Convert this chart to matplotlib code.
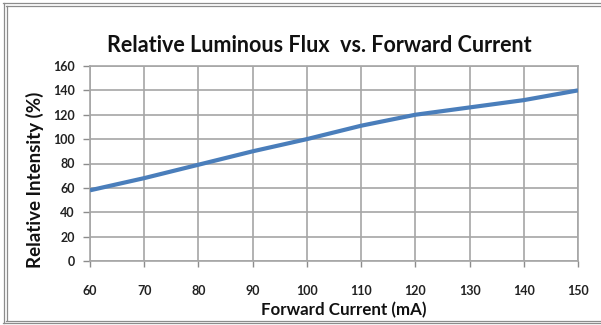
import matplotlib
matplotlib.use("Agg")
import matplotlib.pyplot as plt
from matplotlib.lines import Line2D

# Relative luminous flux vs. forward current
current_ma = [60, 70, 80, 90, 100, 110, 120, 130, 140, 150]
relative_intensity = [58, 68, 79, 90, 100, 111, 120, 126, 132, 140]
x_ticks = [60, 70, 80, 90, 100, 110, 120, 130, 140, 150]
y_ticks = [0, 20, 40, 60, 80, 100, 120, 140, 160]

plt.rcParams['font.family'] = ['Lato', 'DejaVu Sans']

W, H = 601, 325
fig = plt.figure(figsize=(W / 100, H / 100), dpi=100)
fig.patch.set_facecolor('white')

ax = fig.add_axes([90 / W, 1 - 261 / H, (578 - 90) / W, (261 - 66) / H])
ax.plot(current_ma, relative_intensity, color='#4a7ebb', lw=3.0,
        solid_capstyle='butt', solid_joinstyle='round', zorder=3)

ax.set_xlim(60, 150)
ax.set_ylim(0, 160)
ax.set_xticks(x_ticks)
ax.set_yticks(y_ticks)
ax.set_xticklabels([str(v) for v in x_ticks], fontsize=9, fontweight='bold',
                   color='#222222')
ax.set_yticklabels([str(v) for v in y_ticks], fontsize=9, fontweight='bold',
                   color='#222222')
ax.tick_params(axis='x', length=4, width=1, color='#8c8c8c', pad=13)
ax.tick_params(axis='y', length=5, width=1, color='#8c8c8c', pad=6)
ax.grid(True, color='#a6a6a6', lw=1.2, zorder=1)
ax.set_axisbelow(True)
for s in ax.spines.values():
    s.set_color('#a6a6a6')
    s.set_linewidth(1.2)

# axis titles placed in figure pixels
fig.text(344 / W, 1 - 310 / H, 'Forward Current (mA)', ha='center',
         va='center', fontsize=12.2, fontweight='bold', color='#111111')
fig.text(35 / W, 1 - 180 / H, 'Relative Intensity (%)', ha='center',
         va='center', rotation=90, fontsize=13.5, fontweight='bold',
         color='#111111')

fig.text(319 / W, 1 - 45 / H, 'Relative Luminous Flux  vs. Forward Current',
         ha='center', va='center', fontsize=15.5, fontweight='bold',
         color='#111111')

# double frame around the chart
def hline(y, x0, x1):
    fig.add_artist(Line2D([x0 / W, x1 / W], [1 - y / H, 1 - y / H],
                          color='#8c8c8c', lw=0.9, transform=fig.transFigure))

def vline(x, y0, y1):
    fig.add_artist(Line2D([x / W, x / W], [1 - y0 / H, 1 - y1 / H],
                          color='#8c8c8c', lw=0.9, transform=fig.transFigure))

hline(2.5, 3, W)
hline(5.5, 6, W)
vline(3.5, 2.5, 323)
vline(6.5, 5.5, 320)
hline(320.5, 6, W)
hline(323, 3, W)

fig.savefig('out.png', dpi=100, facecolor='white')
